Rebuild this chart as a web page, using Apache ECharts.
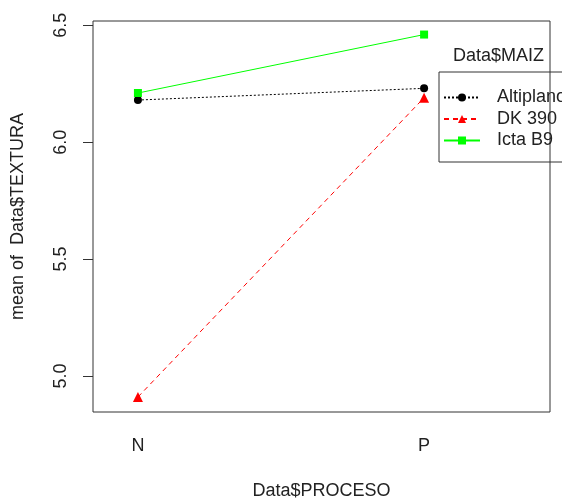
<!DOCTYPE html>
<html>
<head>
<meta charset="utf-8">
<script src="https://cdn.jsdelivr.net/npm/echarts@6/dist/echarts.min.js"></script>
<style>
  html, body { margin: 0; padding: 0; background: #fff; }
  #chart { width: 562px; height: 500px; }
</style>
</head>
<body>
<div id="chart"></div>
<script>
// datos
var categories = ['N', 'P'];
var yTicks = [5.0, 5.5, 6.0, 6.5];
var altiplano = [6.18, 6.23];
var dk390 = [4.91, 6.19];
var ictaB9 = [6.21, 6.46];

function toPoints(vals) {
    return vals.map(function (v, i) { return [i + 1, v]; });
}

var font = '"Liberation Sans", Arial, sans-serif';
var mycharts = echarts.init(document.getElementById('chart'));
var option = {
    animation: false,
    textStyle: { fontFamily: font },
    title: {
        text: 'Data$MAIZ',
        left: 453,
        top: 47,
        padding: 0,
        textStyle: { fontFamily: font, fontSize: 18, fontWeight: 'normal', color: '#222' }
    },
    legend: {
        orient: 'vertical',
        left: 439,
        top: 72,
        padding: [16, 20, 12, 4],
        itemWidth: 36,
        itemHeight: 10,
        itemGap: 2.5,
        borderColor: '#333',
        borderWidth: 1,
        textStyle: { fontFamily: font, fontSize: 18, lineHeight: 19, color: '#222', padding: [0, 0, 0, 12] },
        data: ['Altiplano', 'DK 390', 'Icta B9']
    },
    grid: {
        left: 93,
        top: 21,
        width: 457,
        height: 391,
        show: true,
        containLabel: false,
        outerBoundsMode: 'none',
        borderColor: '#333',
        borderWidth: 1
    },
    xAxis: {
        type: 'value',
        min: 0.843,
        max: 2.44,
        name: 'Data$PROCESO',
        nameLocation: 'middle',
        nameGap: 70,
        nameTextStyle: { fontSize: 18, color: '#222' },
        axisLine: { show: false },
        axisTick: { show: false },
        splitLine: { show: false },
        axisLabel: {
            customValues: [1, 2],
            margin: 25,
            fontSize: 18,
            color: '#222',
            formatter: function (v) { return categories[Math.round(v) - 1] || ''; }
        }
    },
    yAxis: {
        type: 'value',
        min: 4.846,
        max: 6.518,
        name: 'mean of  Data$TEXTURA',
        nameLocation: 'middle',
        nameRotate: 90,
        nameGap: 66,
        nameTextStyle: { fontSize: 18, color: '#222' },
        axisLine: { show: false },
        splitLine: { show: false },
        axisTick: {
            show: true,
            customValues: yTicks,
            length: 10,
            lineStyle: { color: '#333' }
        },
        axisLabel: {
            customValues: yTicks,
            rotate: 90,
            margin: 23,
            fontSize: 18,
            color: '#222',
            formatter: function (v) { return v.toFixed(1); }
        }
    },
    series: [
        {
            name: 'Altiplano',
            type: 'line',
            data: toPoints(altiplano),
            symbol: 'circle',
            symbolSize: 8,
            itemStyle: { color: '#000' },
            lineStyle: { color: '#000', width: 1, type: [2, 2] }
        },
        {
            name: 'DK 390',
            type: 'line',
            data: toPoints(dk390),
            symbol: 'triangle',
            symbolSize: 10,
            itemStyle: { color: '#ff0000' },
            lineStyle: { color: '#ff0000', width: 1, type: [5, 4] }
        },
        {
            name: 'Icta B9',
            type: 'line',
            data: toPoints(ictaB9),
            symbol: 'rect',
            symbolSize: 8,
            itemStyle: { color: '#00ff00' },
            lineStyle: { color: '#00ff00', width: 1 }
        }
    ]
};
mycharts.setOption(option);
</script>
</body>
</html>
